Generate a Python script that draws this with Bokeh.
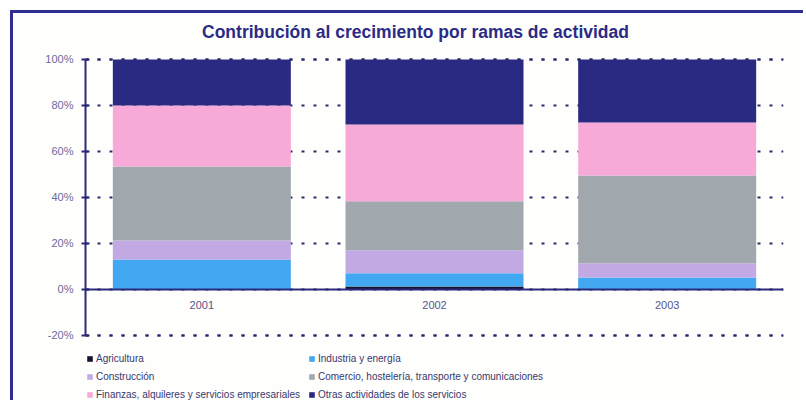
from bokeh.plotting import figure
from bokeh.models import (Range1d, FactorRange, Legend, LegendItem, SingleIntervalTicker,
                          PrintfTickFormatter, Span, Label)
from bokeh.embed import file_html
from bokeh.resources import INLINE

title_text = "Contribución al crecimiento por ramas de actividad"
years = ["2001", "2002", "2003"]
series_names = [
    "Agricultura",
    "Industria y energía",
    "Construcción",
    "Comercio, hostelería, transporte y comunicaciones",
    "Finanzas, alquileres y servicios empresariales",
    "Otras actividades de los servicios",
]
agricultura = [0.0, 1.3, 0.0]
industria = [13.0, 5.7, 5.2]
construccion = [8.3, 10.0, 6.2]
comercio = [32.2, 21.3, 38.2]
finanzas = [26.5, 33.4, 23.0]
otras = [20.0, 28.3, 27.4]
y_ticks_min, y_ticks_max = -20, 100

colors = ["#14142e", "#42a8f2", "#c2a9e4", "#a0a8ae", "#f7a9d8", "#2a2a82"]
keys = ["agri", "ind", "cons", "com", "fin", "otr"]

data = dict(x=years, agri=agricultura, ind=industria, cons=construccion,
            com=comercio, fin=finanzas, otr=otras)

navy = "#2a2a7c"
FONT = "Liberation Sans Narrow, Arial Narrow, Liberation Sans, Arial, sans-serif"

p = figure(width=793, height=390, output_backend="svg", toolbar_location=None,
           x_range=FactorRange(*years, range_padding=0), y_range=Range1d(-49.6, 120),
           min_border_left=72, min_border_right=23, min_border_top=0, min_border_bottom=0)
p.styles = {"margin-left": "10px", "margin-top": "10px",
            "border-top": "3px solid #2e2e8e", "border-left": "3px solid #2e2e8e"}
p.background_fill_color = "#fefefd"
p.border_fill_color = "#fefefd"
p.outline_line_color = None

p.add_layout(Label(x=330, y=372, x_units="screen", y_units="screen", text=title_text,
                   text_align="center", text_baseline="middle",
                   text_font="Liberation Sans", text_font_size="17.5px",
                   text_font_style="bold", text_color="#2b2b86"))

renderers = p.vbar_stack(keys, x="x", width=0.765, source=data, color=colors, line_color=None)

p.xgrid.visible = False
p.ygrid.ticker = SingleIntervalTicker(interval=20)
p.ygrid.bounds = (y_ticks_min, y_ticks_max)
p.ygrid.grid_line_color = "#2a2a6a"
p.ygrid.grid_line_dash = "3 9"
p.ygrid.grid_line_width = 2
for loc in (y_ticks_max, y_ticks_min):
    p.add_layout(Span(location=loc, dimension="width", line_color="#2a2a6a",
                      line_dash="3 9", line_width=2))

p.add_layout(Span(location=0, dimension="width", line_color=navy, line_width=2))

yax = p.yaxis[0]
yax.ticker = SingleIntervalTicker(interval=20)
yax.bounds = (y_ticks_min, y_ticks_max)
yax.formatter = PrintfTickFormatter(format="%d%%")
yax.axis_line_color = navy
yax.axis_line_width = 2
yax.major_tick_line_color = navy
yax.major_tick_line_width = 2
yax.major_tick_in = 4
yax.major_tick_out = 4
yax.minor_tick_line_color = None
yax.major_label_text_font = FONT
yax.major_label_text_font_size = "11px"
yax.major_label_text_color = "#6a6a9c"
yax.major_label_standoff = 8

p.xaxis.visible = False
p.text(x=years, y=[0] * len(years), text=years, y_offset=16,
       text_align="center", text_baseline="middle",
       text_font_size="11px", text_color="#55558a",
       text_font={"value": FONT})

# legend is laid out column by column: reorder so it reads row by row
order = [0, 2, 4, 1, 3, 5]
legend = Legend(
    items=[LegendItem(label=series_names[i], renderers=[renderers[i]]) for i in order],
    location=(1, 1), ncols=2, orientation="vertical",
    glyph_width=7, glyph_height=7, label_standoff=3, label_width=210,
    label_height=16, spacing=2, padding=0, margin=0,
    border_line_color=None, background_fill_alpha=0,
    label_text_font=FONT, label_text_font_size="10px", label_text_color="#38386c",
)
p.add_layout(legend, "center")

html = file_html(p, INLINE)
open("out.html", "w").write(html)
